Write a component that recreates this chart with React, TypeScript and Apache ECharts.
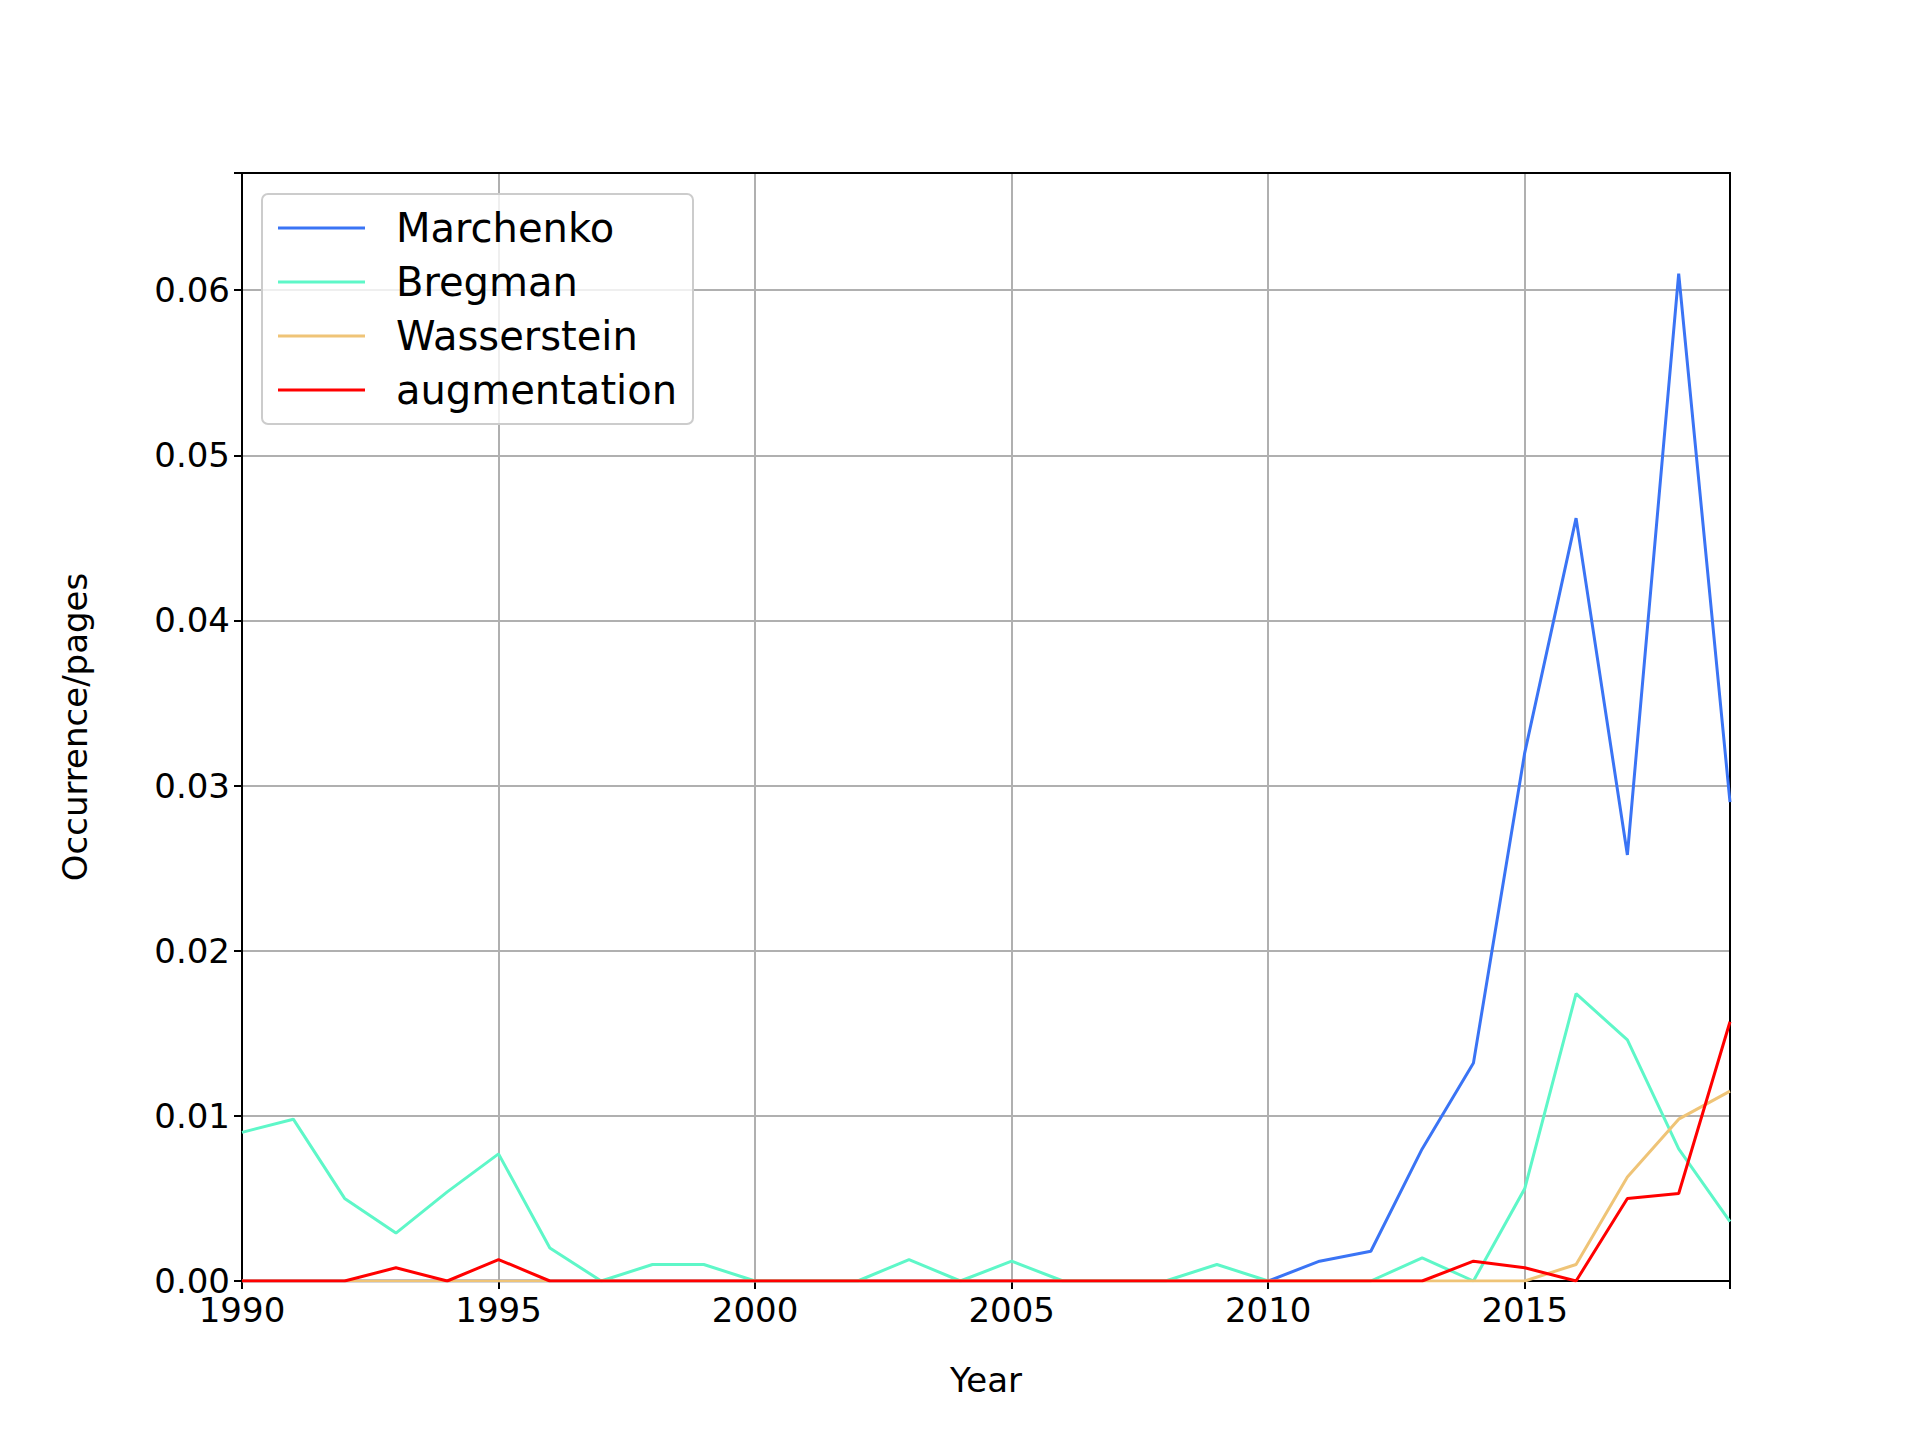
import * as echarts from "echarts";
import { useEffect, useRef } from "react";

const years = Array.from({ length: 30 }, (_, i) => 1990 + i);
const marchenko = [0,0,0,0,0,0,0,0,0,0,0,0,0,0,0,0,0,0,0,0,0,0.0012,0.0018,0.008,0.0132,0.032,0.0462,0.0258,0.061,0.029];
const bregman = [0.009,0.0098,0.005,0.0029,0.0054,0.0077,0.002,0,0.001,0.001,0,0,0,0.0013,0,0.0012,0,0,0,0.001,0,0,0,0.0014,0,0.0056,0.0174,0.0146,0.008,0.0036];
const wasserstein = [0,0,0,0,0,0,0,0,0,0,0,0,0,0,0,0,0,0,0,0,0,0,0,0,0,0,0.001,0.0063,0.0098,0.0115];
const augmentation = [0,0,0,0.0008,0,0.0013,0,0,0,0,0,0,0,0,0,0,0,0,0,0,0,0,0,0,0.0012,0.0008,0,0.005,0.0053,0.0157];

const font = "DejaVu Sans";
const black = { color: "#000", width: 2 };

export default function App() {
  const ref = useRef<HTMLDivElement | null>(null);
  useEffect(() => {
    if (!ref.current) return;
    const chart = echarts.init(ref.current, undefined, { renderer: "svg" });
    const mk = (name: string, data: number[], color: string) => ({
      name,
      type: "line",
      showSymbol: false,
      symbol: "none",
      data: data.map((v, i) => [years[i], v]),
      lineStyle: { color, width: 3 },
      itemStyle: { color },
    });
    chart.setOption({
      animation: false,
      backgroundColor: "#ffffff",
      textStyle: { fontFamily: font },
      grid: { left: 234, right: 182, top: 165, bottom: 151 },
      legend: {
        orient: "vertical",
        left: 254,
        top: 186,
        padding: [14, 16, 14, 16],
        icon: "rect",
        itemWidth: 87,
        itemHeight: 3,
        itemGap: 14,
        borderColor: "#cccccc",
        borderWidth: 2,
        borderRadius: 6,
        backgroundColor: "rgba(255,255,255,0.8)",
        textStyle: { fontSize: 40, color: "#000", fontFamily: font, padding: [0, 0, 0, 26] },
        data: ["Marchenko", "Bregman", "Wasserstein", "augmentation"],
      },
      xAxis: [
        {
          type: "value",
          min: 1990,
          max: 2019,
          interval: 5,
          name: "Year",
          nameLocation: "middle",
          nameGap: 82,
          nameTextStyle: { fontSize: 34, color: "#000" },
          axisLine: { onZero: false, lineStyle: black },
          axisTick: { show: true, length: 8, lineStyle: black },
          axisLabel: { fontSize: 34, color: "#000", margin: 12, formatter: (v: number) => (v % 5 === 0 ? String(v) : "") },
          splitLine: { show: true, lineStyle: { color: "#b0b0b0", width: 2 } },
        },
        {
          type: "value",
          position: "top",
          min: 1990,
          max: 2019,
          axisLine: { onZero: false, lineStyle: black },
          axisTick: { show: false },
          axisLabel: { show: false },
          splitLine: { show: false },
        },
      ],
      yAxis: [
        {
          type: "value",
          min: 0,
          max: 0.0671,
          interval: 0.01,
          name: "Occurrence/pages",
          nameLocation: "middle",
          nameGap: 150,
          nameTextStyle: { fontSize: 34, color: "#000" },
          axisLine: { show: true, onZero: false, lineStyle: black },
          axisTick: { show: true, length: 8, lineStyle: black },
          axisLabel: {
            fontSize: 34,
            color: "#000",
            margin: 12,
            formatter: (v: number) => (Math.abs(v * 100 - Math.round(v * 100)) < 1e-6 ? v.toFixed(2) : ""),
          },
          splitLine: { show: true, lineStyle: { color: "#b0b0b0", width: 2 } },
        },
        {
          type: "value",
          position: "right",
          min: 0,
          max: 0.0671,
          axisLine: { show: true, onZero: false, lineStyle: black },
          axisTick: { show: false },
          axisLabel: { show: false },
          splitLine: { show: false },
        },
      ],
      series: [
        mk("Marchenko", marchenko, "#3a74f5"),
        mk("Bregman", bregman, "#5ef7c8"),
        mk("Wasserstein", wasserstein, "#efc477"),
        mk("augmentation", augmentation, "#ff0000"),
      ],
    });
    return () => chart.dispose();
  }, []);
  return <div ref={ref} style={{ width: 1904, height: 1424 }} />;
}
